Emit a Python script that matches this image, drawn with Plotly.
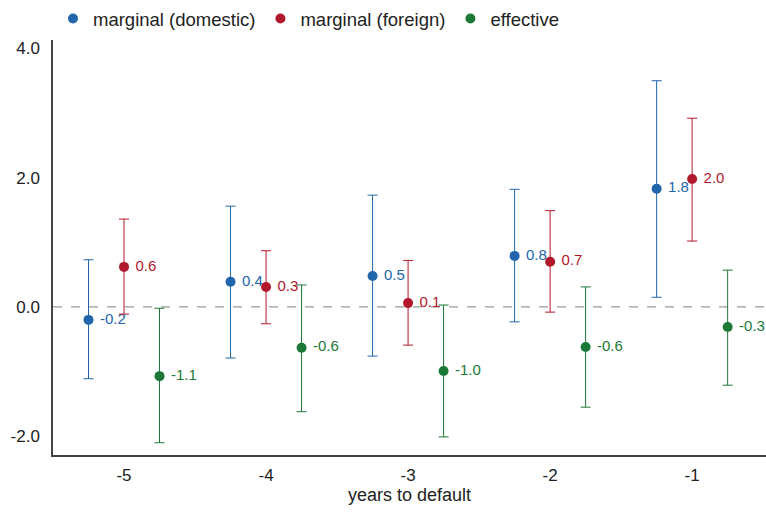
import plotly.graph_objects as go

years = [-5, -4, -3, -2, -1]
series_names = ["marginal (domestic)", "marginal (foreign)", "effective"]
offsets = [-0.25, 0.0, 0.25]
colors = ["#2166ac", "#b2182b", "#1b7837"]

dom_est = [-0.20, 0.39, 0.48, 0.79, 1.83]
dom_hi = [0.73, 1.56, 1.73, 1.82, 3.50]
dom_lo = [-1.11, -0.79, -0.76, -0.23, 0.15]

for_est = [0.62, 0.31, 0.06, 0.70, 1.98]
for_hi = [1.36, 0.87, 0.72, 1.49, 2.92]
for_lo = [-0.11, -0.26, -0.59, -0.08, 1.02]

eff_est = [-1.07, -0.63, -0.99, -0.62, -0.31]
eff_hi = [-0.02, 0.34, 0.03, 0.31, 0.57]
eff_lo = [-2.10, -1.62, -2.01, -1.55, -1.21]

ests = [dom_est, for_est, eff_est]
his = [dom_hi, for_hi, eff_hi]
los = [dom_lo, for_lo, eff_lo]

y_ticks = [-2.0, 0.0, 2.0, 4.0]

FONT = "Liberation Sans, Arial, sans-serif"

fig = go.Figure()
for name, off, col, est, hi, lo in zip(series_names, offsets, colors, ests, his, los):
    xs = [y + off for y in years]
    fig.add_trace(go.Scatter(
        x=xs, y=est, mode="markers+text", name=name,
        marker=dict(color=col, size=10),
        text=[f" {v:.1f}" for v in est],
        textposition="middle right",
        textfont=dict(color=col, size=15, family=FONT),
        error_y=dict(type="data", symmetric=False,
                     array=[h - e for h, e in zip(hi, est)],
                     arrayminus=[e - l for e, l in zip(est, lo)],
                     color=col, thickness=1, width=5),
    ))

fig.add_hline(y=0, line=dict(color="#999999", width=1.2, dash="dash"), layer="below")

fig.update_layout(
    width=766, height=514,
    margin=dict(l=53, r=0, t=40, b=59),
    plot_bgcolor="white", paper_bgcolor="white",
    font=dict(family=FONT, size=17, color="#222222"),
    legend=dict(orientation="h", x=0.0, xref="paper", y=1.0, yref="container",
                yanchor="top", xanchor="left", font=dict(size=18.5),
                itemwidth=30, traceorder="normal"),
    xaxis=dict(range=[-5.5, -0.48], tickvals=years, ticktext=[str(y) for y in years],
               showgrid=False, zeroline=False, showline=True, linecolor="#444444",
               linewidth=1.5, ticks="", ticklabelstandoff=4,
               title=dict(text="years to default", font=dict(size=18), standoff=4)),
    yaxis=dict(range=[-2.29, 4.13], tickvals=y_ticks, ticktext=[f"{v:.1f}" for v in y_ticks],
               showgrid=False, zeroline=False, showline=True, linecolor="#444444",
               linewidth=1.5, ticks="", ticklabelstandoff=8),
    showlegend=True,
)

fig.write_html("out.html")
